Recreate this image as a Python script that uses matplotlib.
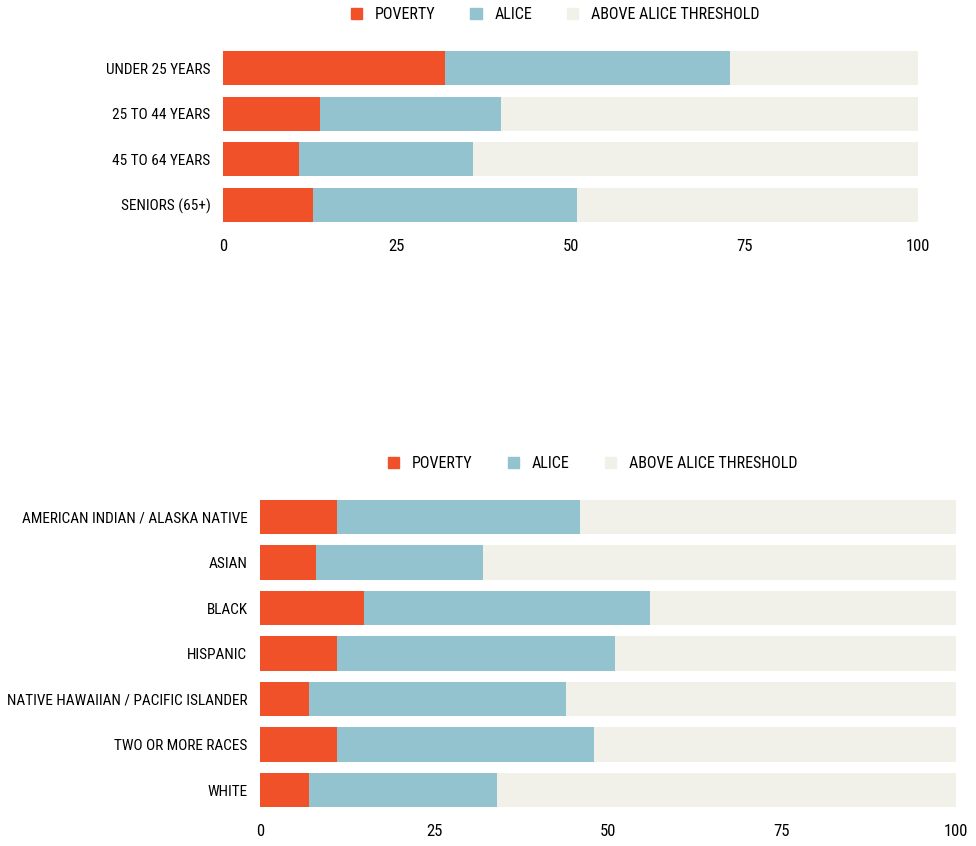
import matplotlib.pyplot as plt
from matplotlib.patches import Patch

# age groups
age_groups = ["UNDER 25 YEARS", "25 TO 44 YEARS", "45 TO 64 YEARS", "SENIORS (65+)"]
age_poverty = [32, 14, 11, 13]
age_alice = [41, 26, 25, 38]

# race / ethnicity
race_groups = ["AMERICAN INDIAN / ALASKA NATIVE", "ASIAN", "BLACK", "HISPANIC",
               "NATIVE HAWAIIAN / PACIFIC ISLANDER", "TWO OR MORE RACES", "WHITE"]
race_poverty = [11, 8, 15, 11, 7, 11, 7]
race_alice = [35, 24, 41, 40, 37, 37, 27]

series_names = ["POVERTY", "ALICE", "ABOVE ALICE THRESHOLD"]
colors = ["#F05129", "#92C3CE", "#F1F1EA"]
xticks = [0, 25, 50, 75, 100]

plt.rcParams['font.family'] = ['Roboto Condensed', 'Open Sans Condensed',
                               'Liberation Sans Narrow', 'DejaVu Sans']
plt.rcParams['font.stretch'] = 'condensed'
plt.rcParams['text.color'] = '#000000'
plt.rcParams['xtick.color'] = '#000000'
plt.rcParams['ytick.color'] = '#000000'

fig = plt.figure(figsize=(9.76, 8.46), dpi=100)
H = 846.0
W = 976.0
FS = 11


def stacked(ax, groups, pov, alice):
    above = [100 - p - a for p, a in zip(pov, alice)]
    y = list(range(len(groups)))
    ax.barh(y, pov, height=0.75, color=colors[0], linewidth=0)
    ax.barh(y, alice, left=pov, height=0.75, color=colors[1], linewidth=0)
    left2 = [p + a for p, a in zip(pov, alice)]
    ax.barh(y, above, left=left2, height=0.75, color=colors[2], linewidth=0)
    ax.set_ylim(len(groups) - 0.5, -0.5)
    ax.set_xlim(0, 100)
    ax.set_yticks(y)
    ax.set_yticklabels(groups, fontsize=FS)
    ax.set_xticks(xticks)
    ax.set_xticklabels([str(t) for t in xticks], fontsize=FS + 1)
    ax.tick_params(length=0, pad=9)
    ax.tick_params(axis='x', pad=8)
    for s in ax.spines.values():
        s.set_visible(False)
    handles = [Patch(color=c, label=n) for c, n in zip(colors, series_names)]
    return handles


def add_legend(ax, handles, h_px):
    ax.legend(handles=handles, loc='center', bbox_to_anchor=(0.478, 1 + 31 / h_px),
              ncol=3, frameon=False, fontsize=FS + 0.5, handlelength=0.7,
              handleheight=0.7, columnspacing=2.2, handletextpad=0.8)


ax1 = fig.add_axes([223 / W, 1 - 227.75 / H, (918 - 223) / W, 182.5 / H])
h = stacked(ax1, age_groups, age_poverty, age_alice)
add_legend(ax1, h, 182.5)

ax2 = fig.add_axes([260 / W, 1 - 812.75 / H, (956 - 260) / W, 318.5 / H])
h = stacked(ax2, race_groups, race_poverty, race_alice)
add_legend(ax2, h, 318.5)

fig.savefig("out.png", dpi=100)
